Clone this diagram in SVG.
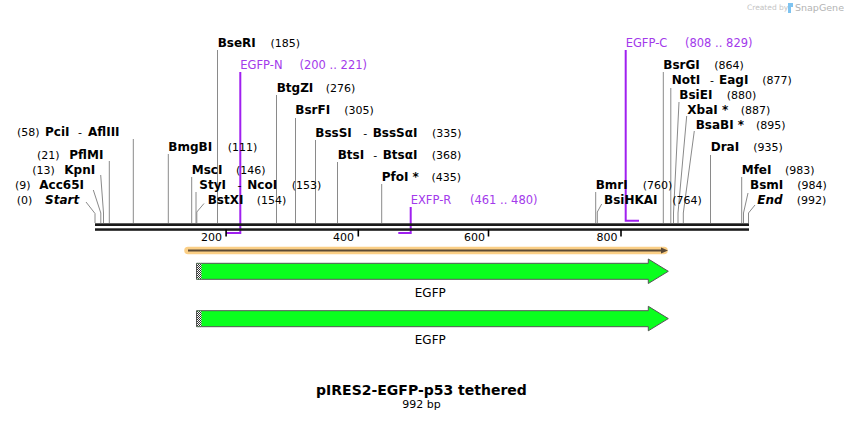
<svg xmlns="http://www.w3.org/2000/svg" width="844" height="421" viewBox="0 0 844 421">
<style>
text{font-family:"DejaVu Sans",Verdana,sans-serif;fill:#000}
.nm{font-size:12px;font-weight:bold}
.it{font-size:12px;font-weight:bold;font-style:italic}
.num{font-size:11px}
.pr{font-size:11.5px;fill:#a33aeb}
.site{stroke:#8a8a8a;stroke-width:1;fill:none}
.prl{stroke:#a020f0;stroke-width:2;fill:none}
.tick{font-size:11px}
.arrow{fill:#0aff1e;stroke:#555;stroke-width:1}
.flab{font-size:12px;text-anchor:middle}
</style>
<defs>
<pattern id="hatch" width="2" height="2" patternUnits="userSpaceOnUse">
<rect width="2" height="2" fill="#fff"/>
<rect width="1" height="1" fill="#333"/>
<rect x="1" y="1" width="1" height="1" fill="#333"/>
</pattern>
</defs>
<rect width="844" height="421" fill="#fff"/>

<g id="watermark">
<text x="747" y="10" style="font-size:7.5px;fill:#c4c4c4">Created by</text>
<path d="M788 3 h5 v4 h-2 v6 h-3 z" fill="#7ec3f0"/>
<text x="795" y="11" style="font-size:9.5px;fill:#b3b3b3">SnapGene</text>
</g>

<g id="connectors">
<polyline class="site" points="86,202 95,213.5 95,223"/>
<polyline class="site" points="93.3,190 100.8,213 100.8,223"/>
<polyline class="site" points="100.7,175 103.5,213 103.5,223"/>
<line class="site" x1="109.3" y1="161" x2="109.3" y2="223"/>
<line class="site" x1="133.3" y1="139" x2="133.3" y2="223"/>
<line class="site" x1="168.3" y1="154" x2="168.3" y2="223"/>
<line class="site" x1="191.7" y1="177" x2="191.7" y2="223"/>
<line class="site" x1="196" y1="192" x2="196" y2="223"/>
<polyline class="site" points="204,203.5 196.8,212 196.8,223"/>
<line class="site" x1="217.5" y1="50" x2="217.5" y2="223"/>
<line class="site" x1="276.5" y1="95" x2="276.5" y2="223"/>
<line class="site" x1="295.5" y1="118" x2="295.5" y2="223"/>
<line class="site" x1="315.5" y1="140" x2="315.5" y2="223"/>
<line class="site" x1="337.5" y1="162" x2="337.5" y2="223"/>
<line class="site" x1="381.7" y1="184" x2="381.7" y2="223"/>
<line class="site" x1="595.7" y1="192" x2="595.7" y2="223"/>
<polyline class="site" points="601.7,204 597.3,212 597.3,223"/>
<line class="site" x1="663.3" y1="72" x2="663.3" y2="223"/>
<line class="site" x1="670.8" y1="88" x2="670.8" y2="223"/>
<polyline class="site" points="679,102 673.5,213 673.5,223"/>
<polyline class="site" points="686.7,116 678,213 678,223"/>
<polyline class="site" points="694.3,131 683.3,213 683.3,223"/>
<line class="site" x1="710.5" y1="155" x2="710.5" y2="223"/>
<line class="site" x1="741.7" y1="177" x2="741.7" y2="223"/>
<polyline class="site" points="748,193 743.5,213 743.5,223"/>
<polyline class="site" points="755,205 748.5,213 748.5,223"/>
<polyline class="prl" points="240.3,72 240.3,233 226,233"/>
<polyline class="prl" points="410.7,207 410.7,233 398.3,233"/>
<polyline class="prl" points="625.7,50 625.7,220.7 639,220.7"/>
</g>

<g id="backbone">
<rect x="95" y="223.3" width="654" height="2.7" fill="#1a1a1a"/>
<rect x="95" y="228.3" width="654" height="2.5" fill="#1a1a1a"/>
<rect x="225.3" y="229.5" width="1.6" height="7" fill="#000"/>
<rect x="357.5" y="229.5" width="1.6" height="7" fill="#000"/>
<rect x="487.7" y="229.5" width="1.6" height="7" fill="#000"/>
<rect x="620.2" y="229.5" width="1.6" height="7" fill="#000"/>
<text class="tick" x="222" y="241" text-anchor="end">200</text>
<text class="tick" x="354" y="241" text-anchor="end">400</text>
<text class="tick" x="485" y="241" text-anchor="end">600</text>
<text class="tick" x="617.5" y="241" text-anchor="end">800</text>
</g>

<g id="n-start"><text x="16.7" y="203.5"><tspan class="num">(0)</tspan><tspan class="it" x="45">Start</tspan></text></g>
<g id="n-acc65i"><text x="15" y="188.5"><tspan class="num">(9)</tspan><tspan class="nm" x="39.3">Acc65I</tspan></text></g>
<g id="n-kpni"><text x="32.3" y="174"><tspan class="num">(13)</tspan><tspan class="nm" x="64.3">KpnI</tspan></text></g>
<g id="n-pflmi"><text x="37" y="158.5"><tspan class="num">(21)</tspan><tspan class="nm" x="69.3">PflMI</tspan></text></g>
<g id="n-pcii"><text x="17" y="136"><tspan class="num">(58)</tspan><tspan class="nm" x="45">PciI</tspan><tspan class="num" x="78">-</tspan><tspan class="nm" x="88">AflIII</tspan></text></g>
<g id="n-bmgbi"><text x="168.3" y="150.5"><tspan class="nm">BmgBI</tspan><tspan class="num" x="227.7">(111)</tspan></text></g>
<g id="n-msci"><text x="191.7" y="173.5"><tspan class="nm">MscI</tspan><tspan class="num" x="236">(146)</tspan></text></g>
<g id="n-styi"><text x="199.3" y="188.5"><tspan class="nm">StyI</tspan><tspan class="num" x="237.5">-</tspan><tspan class="nm" x="247.3">NcoI</tspan><tspan class="num" x="291.7">(153)</tspan></text></g>
<g id="n-bstxi"><text x="207.7" y="203.5"><tspan class="nm">BstXI</tspan><tspan class="num" x="256.7">(154)</tspan></text></g>
<g id="n-bseri"><text x="217.7" y="46.5"><tspan class="nm">BseRI</tspan><tspan class="num" x="270.5">(185)</tspan></text></g>
<g id="n-egfp-n"><text class="pr" x="240.3" y="69">EGFP-N<tspan x="299.5">(200 .. 221)</tspan></text></g>
<g id="n-btgzi"><text x="276.7" y="91.5"><tspan class="nm">BtgZI</tspan><tspan class="num" x="325.7">(276)</tspan></text></g>
<g id="n-bsrfi"><text x="295.3" y="114"><tspan class="nm">BsrFI</tspan><tspan class="num" x="344.3">(305)</tspan></text></g>
<g id="n-bsssi"><text x="315.3" y="136.5"><tspan class="nm">BssSI</tspan><tspan class="num" x="363.3">-</tspan><tspan class="nm" x="372.7">BssSαI</tspan><tspan class="num" x="432">(335)</tspan></text></g>
<g id="n-btsi"><text x="337.7" y="158.5"><tspan class="nm">BtsI</tspan><tspan class="num" x="373.3">-</tspan><tspan class="nm" x="382.7">BtsαI</tspan><tspan class="num" x="431.7">(368)</tspan></text></g>
<g id="n-pfoi"><text x="381.7" y="180.5"><tspan class="nm">PfoI *</tspan><tspan class="num" x="431.5">(435)</tspan></text></g>
<g id="n-exfp-r"><text class="pr" x="410.7" y="203.5">EXFP-R<tspan x="470">(461 .. 480)</tspan></text></g>
<g id="n-bmri"><text x="595.7" y="188.5"><tspan class="nm">BmrI</tspan><tspan class="num" x="642.7">(760)</tspan></text></g>
<g id="n-bsihkai"><text x="604" y="203.5"><tspan class="nm">BsiHKAI</tspan><tspan class="num" x="672.3">(764)</tspan></text></g>
<g id="n-egfp-c"><text class="pr" x="625.7" y="46.5">EGFP-C<tspan x="685">(808 .. 829)</tspan></text></g>
<g id="n-bsrgi"><text x="663.3" y="68.5"><tspan class="nm">BsrGI</tspan><tspan class="num" x="714.3">(864)</tspan></text></g>
<g id="n-noti"><text x="671.7" y="84"><tspan class="nm">NotI</tspan><tspan class="num" x="710">-</tspan><tspan class="nm" x="719">EagI</tspan><tspan class="num" x="762.3">(877)</tspan></text></g>
<g id="n-bsiei"><text x="679.3" y="98.5"><tspan class="nm">BsiEI</tspan><tspan class="num" x="726.7">(880)</tspan></text></g>
<g id="n-xbai"><text x="687.3" y="113.5"><tspan class="nm">XbaI *</tspan><tspan class="num" x="740.7">(887)</tspan></text></g>
<g id="n-bsabi"><text x="695.7" y="128.5"><tspan class="nm">BsaBI *</tspan><tspan class="num" x="756">(895)</tspan></text></g>
<g id="n-drai"><text x="710.7" y="150.5"><tspan class="nm">DraI</tspan><tspan class="num" x="753.3">(935)</tspan></text></g>
<g id="n-mfei"><text x="741.7" y="173.5"><tspan class="nm">MfeI</tspan><tspan class="num" x="785">(983)</tspan></text></g>
<g id="n-bsmi"><text x="750" y="188.5"><tspan class="nm">BsmI</tspan><tspan class="num" x="797.3">(984)</tspan></text></g>
<g id="n-end"><text x="757.3" y="203.5"><tspan class="it">End</tspan><tspan class="num" x="796.7">(992)</tspan></text></g>

<g id="orf">
<path d="M188 250.6 H664" stroke="#fbcf86" stroke-width="7.5" stroke-linecap="round" fill="none"/>
<path d="M188 250.6 H662" stroke="#5b4a36" stroke-width="2" fill="none"/>
<polygon points="661,247.6 668,250.6 661,253.6" fill="#5b4a36"/>
</g>

<g id="egfp1">
<polygon class="arrow" points="196.5,263.3 648.3,263.3 648.3,259 668.3,271.3 648.3,283.5 648.3,279.3 196.5,279.3"/>
<rect x="197" y="263.8" width="4.5" height="15" fill="url(#hatch)"/>
<text class="flab" x="430.3" y="297">EGFP</text>
</g>
<g id="egfp2">
<polygon class="arrow" points="196.5,310.7 648.3,310.7 648.3,306.3 668.3,318.6 648.3,330.8 648.3,326.7 196.5,326.7"/>
<rect x="197" y="311.2" width="4.5" height="15" fill="url(#hatch)"/>
<text class="flab" x="430.3" y="344">EGFP</text>
</g>

<g id="title">
<text x="421.5" y="395" text-anchor="middle" style="font-size:14px;font-weight:bold">pIRES2-EGFP-p53 tethered</text>
<text x="421.5" y="408" text-anchor="middle" style="font-size:11px">992 bp</text>
</g>
</svg>
